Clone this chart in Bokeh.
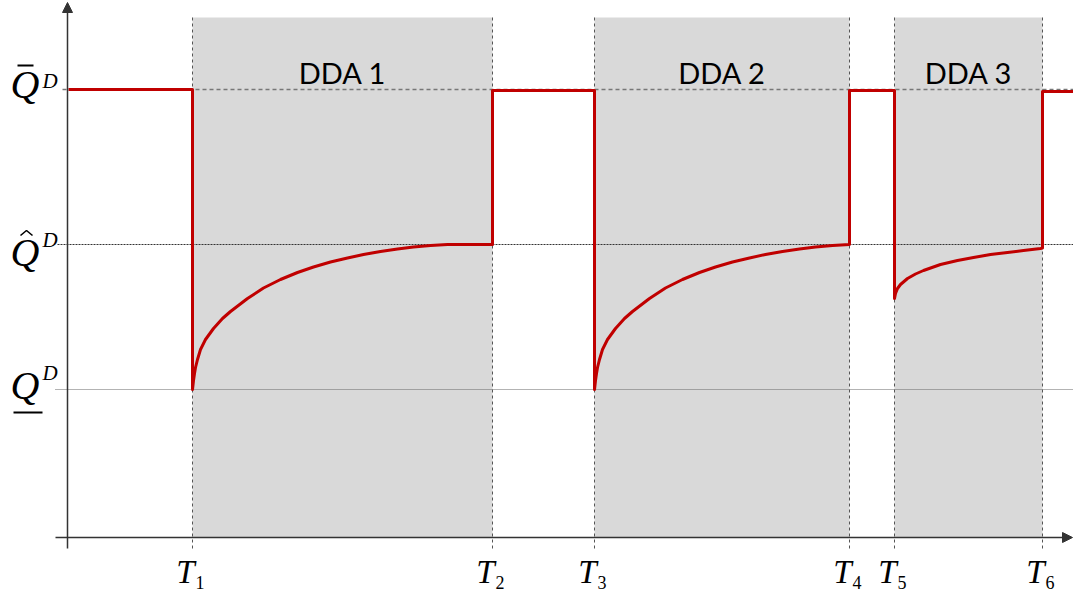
from bokeh.plotting import figure
from bokeh.models import Range1d, Arrow, NormalHead
from bokeh.core.properties import value
from bokeh.embed import file_html
from bokeh.resources import INLINE

# ---- data (schematic units: time along x, quantity along y) ----
T_ticks = [125, 425, 527, 782, 827, 975]
T_subs = ["1", "2", "3", "4", "5", "6"]
dda_names = ["DDA 1", "DDA 2", "DDA 3"]
dda_start = [125, 527, 827]
dda_end = [425, 782, 975]
shade_top = 520

Q_BAR = 448
Q_HAT = 293
Q_UNDER = 148

# recovery curves inside each DDA
dda1_t = [125, 126, 127, 128, 130, 133, 138, 146, 155, 163, 180, 196, 213, 230, 246,
          263, 280, 296, 313, 330, 346, 363, 380, 425]
dda1_q = [148, 157, 164, 170, 178, 188, 198, 209, 219, 226, 239, 249.5, 258, 265, 270.5,
          275.5, 279.5, 283, 286, 288.5, 290.5, 292, 293, 293]
dda2_t = [527, 528, 529, 530, 532, 535, 540, 548, 557, 565, 582, 598, 615, 632, 648,
          665, 682, 698, 715, 732, 748, 765, 782]
dda2_q = [148, 157, 164, 170, 178, 188, 198, 209, 219, 226, 239, 249.5, 258, 265, 270.5,
          275.5, 279.5, 283, 286, 288.5, 290.5, 292, 293]
dda3_t = [827, 828, 830, 833, 840, 848, 856, 873, 890, 906, 923, 940, 956, 973, 975]
dda3_q = [239, 244, 249, 253, 259, 263.5, 267, 273, 277, 280, 283, 285, 287, 289, 289.5]
# plateaus outside DDAs
plateau_q = [448, 447, 447, 446]
t_start, t_end = 1, 1010

red_t = ([t_start, dda1_t[0]] + dda1_t + [dda1_t[-1], dda2_t[0]] + dda2_t
         + [dda2_t[-1], dda3_t[0]] + dda3_t + [dda3_t[-1], t_end])
red_q = ([plateau_q[0], plateau_q[0]] + dda1_q + [plateau_q[1], plateau_q[1]] + dda2_q
         + [plateau_q[2], plateau_q[2]] + dda3_q + [plateau_q[3], plateau_q[3]])

p = figure(width=1073, height=593, output_backend="svg", toolbar_location=None,
           x_range=Range1d(-67, 1006), y_range=Range1d(-56, 537),
           x_axis_type=None, y_axis_type=None, min_border=0)
p.grid.visible = False
p.outline_line_color = None
p.background_fill_color = "white"

# shaded DDA periods
p.quad(left=dda_start, right=dda_end, bottom=0, top=shade_top,
       fill_color="#d9d9d9", line_color=None)

# vertical dashed lines at T_i
p.segment(x0=T_ticks, x1=T_ticks, y0=[-11] * 6, y1=[shade_top] * 6,
          line_color="#555555", line_width=1, line_dash="3 3")

# horizontal reference levels
p.segment(x0=[-5], x1=[1008], y0=[Q_BAR], y1=[Q_BAR], line_color="#777777",
          line_width=1.3, line_dash="4 3")
p.segment(x0=[-10], x1=[1008], y0=[Q_HAT], y1=[Q_HAT], line_color="#333333",
          line_width=1, line_dash="2 1")
p.segment(x0=[-12], x1=[1008], y0=[Q_UNDER], y1=[Q_UNDER], line_color="#666666",
          line_width=1, line_dash="1 1")

# axes with arrows
ax_col = "#333333"
p.add_layout(Arrow(end=NormalHead(size=10, fill_color=ax_col, line_color=ax_col),
                   x_start=0, y_start=-11, x_end=0, y_end=535,
                   line_color=ax_col, line_width=1.5))
p.add_layout(Arrow(end=NormalHead(size=10, fill_color=ax_col, line_color=ax_col),
                   x_start=-12, y_start=0, x_end=1005, y_end=0,
                   line_color=ax_col, line_width=1.5))

# red quantity path
p.line(red_t, red_q, line_color="#c00000", line_width=3, line_join="round")

# DDA labels
p.text(x=[(a + b) / 2 for a, b in zip(dda_start, dda_end)], y=[Q_BAR + 17] * 3,
       text=dda_names, text_font=value("Lato"), text_font_size="29px",
       text_color="#000000", text_align="center", text_baseline="alphabetic")

# T_i labels
serif = value("Liberation Serif")
p.text(x=[t + 2 for t in T_ticks], y=[-34] * 6, text=["T"] * 6, text_font=serif,
       text_font_style="italic", text_font_size="33px", text_color="black",
       text_align="right", text_baseline="alphabetic")
p.text(x=[t + 3 for t in T_ticks], y=[-45] * 6, text=T_subs, text_font=serif,
       text_font_size="18px", text_color="black",
       text_align="left", text_baseline="alphabetic")

# Q labels on the y axis
q_levels = [Q_BAR, Q_HAT, Q_UNDER]
q_base_off = [5, -8, 4]
d_base_off = [9, 5, 17]
p.text(x=[-57] * 3, y=[l + o for l, o in zip(q_levels, q_base_off)], text=["Q"] * 3,
       text_font=serif, text_font_style="italic", text_font_size="40px",
       text_color="black", text_align="left", text_baseline="alphabetic")
p.text(x=[-25] * 3, y=[l + o for l, o in zip(q_levels, d_base_off)], text=["D"] * 3,
       text_font=serif, text_font_style="italic", text_font_size="21px",
       text_color="black", text_align="left", text_baseline="alphabetic")
# bar, hat, underline accents
p.line(x=[-50, -34], y=[Q_BAR + 24, Q_BAR + 24], line_color="black", line_width=2)
p.line(x=[-47, -41, -35], y=[Q_HAT + 9, Q_HAT + 14, Q_HAT + 9], line_color="black", line_width=1.6)
p.line(x=[-54, -25], y=[Q_UNDER - 23, Q_UNDER - 23], line_color="black", line_width=2)

open("out.html", "w").write(file_html(p, INLINE))
